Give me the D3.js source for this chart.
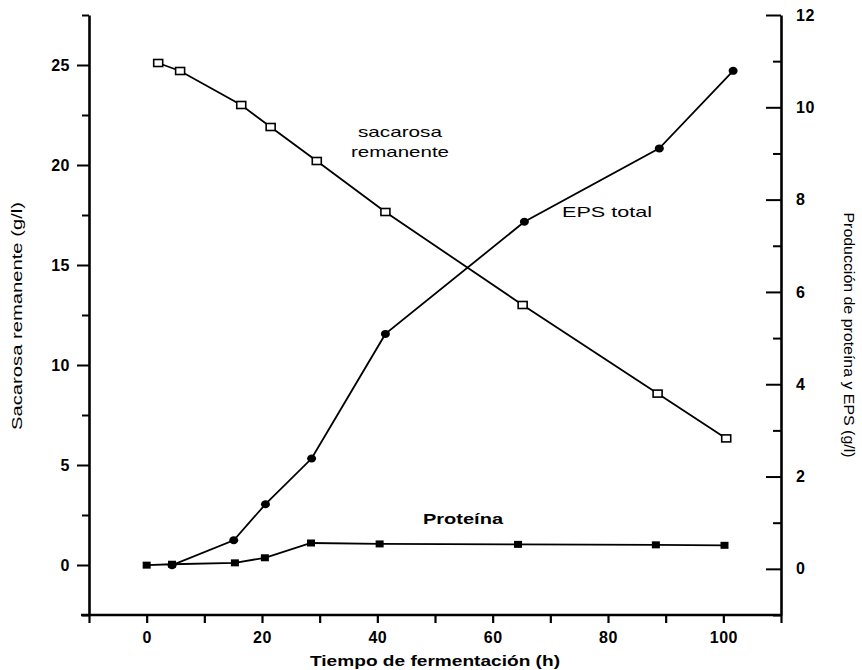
<!DOCTYPE html>
<html>
<head>
<meta charset="utf-8">
<script src="https://cdn.jsdelivr.net/npm/d3@7"></script>
<style>
  html, body { margin: 0; padding: 0; background: #fff; }
  svg { display: block; }
  text { font-family: "Liberation Sans", Arial, Helvetica, sans-serif; fill: #000; }
</style>
</head>
<body>
<svg id="chart" width="862" height="670"></svg>
<script>
// ---- Data ----
const sucroseTime = [2, 5.8, 16.4, 21.5, 29.5, 41.4, 65.2, 88.6, 100.5];
const sucrose     = [25.1, 24.7, 23.0, 21.9, 20.2, 17.65, 13.0, 8.57, 6.33];   // g/l, left axis

const epsTime = [4.4, 15.1, 20.6, 28.6, 41.4, 65.5, 88.9, 101.7];
const eps     = [0.08, 0.62, 1.40, 2.39, 5.09, 7.52, 9.11, 10.79];            // g/l, right axis

const proteinTime = [0, 4.4, 15.3, 20.5, 28.5, 40.4, 64.4, 88.3, 100.2];
const protein     = [0.08, 0.1, 0.13, 0.24, 0.56, 0.54, 0.53, 0.52, 0.51];     // g/l, right axis

const xTickLabels = [0, 20, 40, 60, 80, 100];
const leftTickLabels = [0, 5, 10, 15, 20, 25];
const rightTickLabels = [0, 2, 4, 6, 8, 10, 12];

const xTitle = "Tiempo de fermentación (h)";
const leftTitle = "Sacarosa remanente (g/l)";
const rightTitle = "Producción de proteína y EPS (g/l)";

// ---- Layout ----
const svg = d3.select("#chart");
const L = 89, R = 781, T = 15, B = 615;

const x = d3.scaleLinear().domain([-10, 110]).range([L, R]);
const yL = d3.scaleLinear().domain([-2.5, 27.5]).range([B, T]);
const yR = d3.scaleLinear().domain([-1, 12]).range([B, T]);

const axisW = 2.6;
const tickFont = g => g.attr("font-size", 16).attr("font-weight", "bold").attr("letter-spacing", "0.5px");

// X axis
const xMinor = d3.range(-10, 111, 10);
const gx = svg.append("g").attr("transform", `translate(0,${B})`)
  .call(d3.axisBottom(x).tickValues(xMinor).tickSize(8).tickSizeOuter(0)
        .tickFormat(d => xTickLabels.includes(d) ? d : ""));
gx.select(".domain").attr("stroke-width", axisW).attr("d", `M${L - 8},0H${R}`);
gx.selectAll(".tick line").attr("stroke-width", 2.2);
gx.selectAll(".tick text").call(tickFont).attr("dy", "1.05em");

// Left axis: major ticks
const gl = svg.append("g").attr("transform", `translate(${L},0)`)
  .call(d3.axisLeft(yL).tickValues(leftTickLabels).tickSize(12).tickSizeOuter(0).tickPadding(7));
gl.select(".domain").attr("stroke-width", axisW);
gl.selectAll(".tick line").attr("stroke-width", 2);
gl.selectAll(".tick text").call(tickFont);
// Left axis minor ticks
const glm = svg.append("g").attr("transform", `translate(${L},0)`)
  .call(d3.axisLeft(yL).tickValues(d3.range(-2.5, 28, 5)).tickSize(7).tickFormat(""));
glm.select(".domain").remove();
glm.selectAll(".tick line").attr("stroke-width", 2);

// Right axis: major ticks point inward
const gr = svg.append("g").attr("transform", `translate(${R},0)`)
  .call(d3.axisRight(yR).tickValues(rightTickLabels).tickSize(0).tickSizeOuter(0).tickPadding(15));
gr.select(".domain").attr("stroke-width", axisW);
gr.selectAll(".tick line").attr("x2", -15).attr("stroke-width", 2);
gr.selectAll(".tick text").call(tickFont);
const grm = svg.append("g").attr("transform", `translate(${R},0)`)
  .call(d3.axisRight(yR).tickValues(d3.range(-1, 12, 2)).tickSize(0).tickFormat(""));
grm.select(".domain").remove();
grm.selectAll(".tick line").attr("x2", -8).attr("stroke-width", 2);

// ---- Lines ----
const lineStyle = g => g.attr("fill", "none").attr("stroke", "#000").attr("stroke-width", 1.8);

const sucPts = sucroseTime.map((t, i) => [t, sucrose[i]]);
const epsPts = epsTime.map((t, i) => [t, eps[i]]);
const proPts = proteinTime.map((t, i) => [t, protein[i]]);

svg.append("path").datum(sucPts).call(lineStyle)
  .attr("d", d3.line().x(d => x(d[0])).y(d => yL(d[1])));
svg.append("path").datum(epsPts).call(lineStyle)
  .attr("d", d3.line().x(d => x(d[0])).y(d => yR(d[1])));
svg.append("path").datum(proPts).call(lineStyle)
  .attr("d", d3.line().x(d => x(d[0])).y(d => yR(d[1])));

// ---- Markers ----
// Protein: filled squares
svg.append("g").selectAll("rect").data(proPts).join("rect")
  .attr("x", d => x(d[0]) - 4).attr("y", d => yR(d[1]) - 3.5)
  .attr("width", 8).attr("height", 7).attr("fill", "#000");
// EPS: filled circles
svg.append("g").selectAll("ellipse").data(epsPts).join("ellipse")
  .attr("cx", d => x(d[0])).attr("cy", d => yR(d[1]))
  .attr("rx", 4.5).attr("ry", 4).attr("fill", "#000");
// Sucrose: open squares
svg.append("g").selectAll("rect").data(sucPts).join("rect")
  .attr("x", d => x(d[0]) - 4.5).attr("y", d => yL(d[1]) - 3.5)
  .attr("width", 9).attr("height", 7).attr("fill", "#fff")
  .attr("stroke", "#000").attr("stroke-width", 1.6);

// ---- Annotations ----
const ann = (txt, cx, cy, len, weight) => svg.append("text")
  .attr("x", cx).attr("y", cy).attr("text-anchor", "middle")
  .attr("font-size", 15).attr("font-weight", weight || "normal")
  .attr("textLength", len).attr("lengthAdjust", "spacingAndGlyphs").text(txt);

ann("sacarosa", 400, 137, 84);
ann("remanente", 400, 157, 98);
ann("EPS total", 607, 217, 90);
ann("Proteína", 463, 524, 80, "bold");

// Axis titles
svg.append("text").attr("x", 435).attr("y", 666).attr("text-anchor", "middle")
  .attr("font-size", 15).attr("font-weight", "bold")
  .attr("textLength", 250).attr("lengthAdjust", "spacingAndGlyphs").text(xTitle);

svg.append("text").attr("transform", "translate(22,316) rotate(-90)")
  .attr("text-anchor", "middle").attr("font-size", 15)
  .attr("textLength", 228).attr("lengthAdjust", "spacingAndGlyphs").text(leftTitle);

svg.append("text").attr("transform", "translate(844,335) rotate(90)")
  .attr("text-anchor", "middle").attr("font-size", 15)
  .attr("textLength", 245).attr("lengthAdjust", "spacingAndGlyphs").text(rightTitle);
</script>
</body>
</html>
